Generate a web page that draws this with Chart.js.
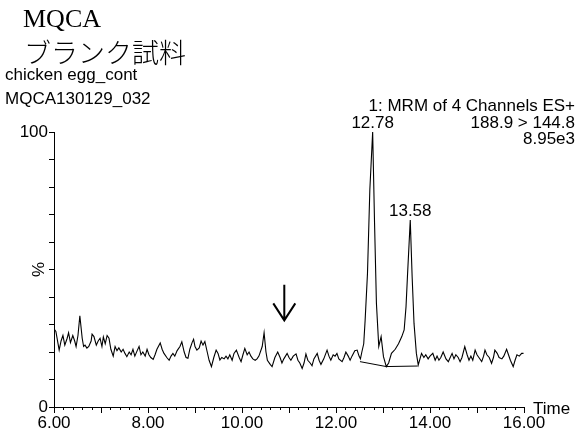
<!DOCTYPE html>
<html>
<head>
<meta charset="utf-8">
<title>MQCA chromatogram</title>
<script src="https://cdn.jsdelivr.net/npm/chart.js@4.4.0/dist/chart.umd.min.js"></script>
<style>
  html, body { margin: 0; padding: 0; background: #fff; }
  #chrom { display: block; }
</style>
</head>
<body>
<canvas id="chrom" width="581" height="437"></canvas>
<script>
// Retention time (min) and relative intensity (%) of the MRM trace
const times = [
  6.00, 6.04, 6.11, 6.15, 6.19, 6.23, 6.28, 6.31, 6.35, 6.40, 6.44, 6.47, 6.51, 6.55, 6.60, 6.63,
  6.66, 6.70, 6.74, 6.79, 6.81, 6.85, 6.90, 6.94, 6.98, 7.02, 7.05, 7.09, 7.13, 7.17, 7.21, 7.26,
  7.30, 7.34, 7.38, 7.43, 7.47, 7.51, 7.55, 7.60, 7.64, 7.68, 7.72, 7.77, 7.81, 7.85, 7.89, 7.94,
  7.98, 8.02, 8.06, 8.11, 8.15, 8.19, 8.26, 8.30, 8.34, 8.40, 8.45, 8.49, 8.53, 8.57, 8.62, 8.68,
  8.72, 8.77, 8.81, 8.85, 8.89, 8.94, 8.97, 9.00, 9.04, 9.09, 9.13, 9.17, 9.21, 9.26, 9.30, 9.35,
  9.40, 9.45, 9.49, 9.53, 9.57, 9.62, 9.66, 9.70, 9.74, 9.79, 9.83, 9.88, 9.94, 9.98, 10.02, 10.06,
  10.11, 10.15, 10.19, 10.23, 10.28, 10.32, 10.36, 10.43, 10.47, 10.51, 10.54, 10.60, 10.64, 10.70,
  10.76, 10.81, 10.85, 10.89, 10.96, 11.00, 11.04, 11.09, 11.15, 11.19, 11.23, 11.28, 11.32, 11.36,
  11.40, 11.45, 11.49, 11.53, 11.60, 11.64, 11.68, 11.74, 11.81, 11.85, 11.89, 11.94, 11.98, 12.02,
  12.06, 12.13, 12.17, 12.21, 12.26, 12.30, 12.34, 12.40, 12.45, 12.49, 12.52, 12.55, 12.59, 12.62,
  12.67, 12.72, 12.78, 12.82, 12.86, 12.91, 12.96, 13.01, 13.07, 13.12, 13.18, 13.26, 13.33, 13.40,
  13.45, 13.49, 13.52, 13.58, 13.62, 13.66, 13.71, 13.75, 13.82, 13.87, 13.91, 13.96, 14.00, 14.06,
  14.11, 14.15, 14.19, 14.23, 14.28, 14.34, 14.39, 14.43, 14.47, 14.51, 14.55, 14.60, 14.64, 14.68,
  14.74, 14.79, 14.83, 14.87, 14.91, 14.96, 15.00, 15.04, 15.10, 15.14, 15.17, 15.21, 15.26, 15.31,
  15.35, 15.38, 15.43, 15.47, 15.53, 15.57, 15.63, 15.67, 15.71, 15.77, 15.81, 15.85, 15.90, 15.95,
  15.99
];
const intensity = [
  28.4, 27.5, 20.7, 24.0, 26.0, 22.5, 25.0, 27.0, 23.4, 26.0, 24.0, 22.0, 26.0, 33.2, 25.0, 22.0,
  22.5, 21.4, 22.0, 24.0, 26.5, 25.6, 22.5, 24.0, 25.0, 22.0, 25.5, 23.0, 26.0, 25.0, 21.0, 18.5,
  22.0, 20.5, 21.5, 20.0, 21.0, 19.5, 18.3, 20.0, 19.0, 21.0, 18.5, 20.5, 22.0, 19.0, 20.0, 18.5,
  21.0, 19.0, 18.0, 17.3, 19.0, 21.0, 23.3, 21.0, 19.5, 18.0, 17.0, 18.5, 19.5, 18.5, 20.5, 22.0,
  23.7, 20.0, 18.0, 17.7, 21.0, 23.5, 24.6, 22.0, 20.7, 21.5, 24.0, 22.5, 23.8, 20.0, 17.0, 14.7,
  18.0, 20.7, 19.5, 17.1, 18.0, 17.5, 18.5, 17.5, 19.0, 17.0, 19.5, 20.7, 18.0, 16.5, 19.0, 21.3,
  19.0, 20.0, 18.5, 17.5, 17.0, 17.5, 18.5, 22.0, 27.0, 20.0, 17.0, 15.5, 14.7, 18.0,
  20.0, 18.0, 16.0, 17.5, 19.5, 18.0, 17.0, 18.5, 19.3, 17.0, 16.0, 14.0, 16.0, 19.3,
  17.0, 16.0, 15.0, 17.5, 19.5, 17.0, 15.5, 17.5, 20.7, 18.5, 17.0, 19.0, 18.5, 19.5,
  17.5, 16.5, 18.0, 20.0, 18.5, 17.0, 18.5, 20.5, 20.7, 18.5, 17.5, 20.0, 23.0, 31.6,
  48.6, 79.0, 100.0, 67.0, 37.7, 22.0, 25.6, 18.3, 14.7, 16.0, 19.5, 21.0, 23.0, 25.6,
  28.0, 36.5, 47.4, 68.0, 47.4, 30.4, 19.5, 15.3, 19.5, 18.0, 19.0, 17.5, 18.5, 19.5,
  17.0, 18.5, 17.0, 18.0, 20.0, 17.5, 16.5, 18.0, 19.5, 17.5, 19.0, 18.0, 16.5, 18.0,
  22.0, 19.0, 17.0, 18.5, 17.0, 20.7, 19.0, 18.0, 16.5, 18.5, 20.7, 19.0, 18.0, 15.9,
  18.0, 20.7, 19.5, 18.0, 17.5, 18.5, 21.0, 19.0, 17.0, 14.7, 17.0, 19.0, 18.5, 19.5,
  19.5
];

// Integration baseline under the two peaks
const baseTimes = [12.51, 13.07, 13.74];
const baseLevels = [16.5, 14.7, 14.9];

// Labelled peaks (apex retention times)
const peakTimes = [12.78, 13.58];

// Axis ticks
const yTicks = [0, 100];
const xLabelTicks = [6, 8, 10, 12, 14, 16];

// Downward marker arrow: time (min) and top/bottom level (%)
const arrowTime = 10.9;
const arrowTop = 44.5;
const arrowBottom = 31.5;

const FONT = '"Liberation Sans", Arial, sans-serif';

function apexLevel(t) {
  const i = times.indexOf(t);
  return i >= 0 ? intensity[i] : 0;
}

// Page header, side annotations, peak labels, arrow and minor ticks
const annotations = {
  id: 'annotations',
  beforeDraw(chart) {
    const ctx = chart.ctx;
    ctx.save();
    ctx.fillStyle = '#fff';
    ctx.fillRect(0, 0, chart.width, chart.height);
    ctx.restore();
  },
  afterDraw(chart) {
    const ctx = chart.ctx;
    const xs = chart.scales.x;
    const ys = chart.scales.y;
    ctx.save();
    ctx.fillStyle = '#000';
    ctx.strokeStyle = '#000';

    ctx.textAlign = 'left';
    ctx.textBaseline = 'alphabetic';
    ctx.font = '26px "Liberation Serif", "Times New Roman", serif';
    ctx.fillText('MQCA', 23, 27);
    ctx.font = '300 27px "Noto Sans CJK JP", sans-serif';
    ctx.textBaseline = 'middle';
    ctx.fillText('ブランク試料', 24, 53);

    ctx.textBaseline = 'alphabetic';
    ctx.font = '17px ' + FONT;
    ctx.fillText('chicken egg_cont', 5, 80);
    ctx.fillText('MQCA130129_032', 5, 104);

    ctx.textAlign = 'right';
    ctx.fillText('1: MRM of 4 Channels ES+', 575, 111);
    ctx.fillText('188.9 > 144.8', 575, 128);
    ctx.fillText('8.95e3', 575, 144);

    // peak apex labels
    ctx.textAlign = 'center';
    peakTimes.forEach(t => {
      const px = xs.getPixelForValue(t);
      const py = ys.getPixelForValue(apexLevel(t));
      ctx.fillText(t.toFixed(2), px, py - 4);
    });

    // axis captions
    ctx.textAlign = 'left';
    ctx.textBaseline = 'middle';
    ctx.fillText('Time', xs.right + 9, ys.bottom + 2);
    ctx.save();
    ctx.translate(39, ys.getPixelForValue(50));
    ctx.rotate(-Math.PI / 2);
    ctx.textAlign = 'center';
    ctx.fillText('%', 0, 0);
    ctx.restore();

    // minor time ticks every 0.2 min
    ctx.lineWidth = 1;
    ctx.beginPath();
    for (let k = 0; k <= 50; k++) {
      if (k % 5 === 0) continue;
      const px = Math.round(xs.getPixelForValue(6 + k * 0.2)) + 0.5;
      ctx.moveTo(px, ys.bottom);
      ctx.lineTo(px, ys.bottom + 3);
    }
    ctx.stroke();

    // marker arrow
    const ax = xs.getPixelForValue(arrowTime);
    const aTop = ys.getPixelForValue(arrowTop);
    const aBot = ys.getPixelForValue(arrowBottom);
    ctx.lineWidth = 2;
    ctx.beginPath();
    ctx.moveTo(ax, aTop);
    ctx.lineTo(ax, aBot);
    ctx.moveTo(ax - 11, aBot - 17);
    ctx.lineTo(ax, aBot);
    ctx.lineTo(ax + 11, aBot - 17);
    ctx.stroke();
    ctx.restore();
  }
};

new Chart(document.getElementById('chrom'), {
  type: 'line',
  data: {
    datasets: [
      {
        data: times.map((t, i) => ({ x: t, y: intensity[i] })),
        borderColor: '#000',
        borderWidth: 1.1,
        pointRadius: 0,
        tension: 0
      },
      {
        data: baseTimes.map((t, i) => ({ x: t, y: baseLevels[i] })),
        borderColor: '#000',
        borderWidth: 1,
        pointRadius: 0,
        tension: 0
      }
    ]
  },
  options: {
    responsive: false,
    animation: false,
    events: [],
    layout: { padding: { top: 132, right: 57, left: 0, bottom: 0 } },
    plugins: {
      legend: { display: false },
      tooltip: { enabled: false }
    },
    scales: {
      x: {
        type: 'linear',
        min: 6,
        max: 16,
        afterFit: s => { s.height = 30; },
        afterBuildTicks: s => {
          s.ticks = [];
          for (let v = 6; v <= 16; v++) s.ticks.push({ value: v });
        },
        border: { display: true, color: '#000', width: 1 },
        grid: { drawOnChartArea: false, color: '#000', tickLength: 6, tickWidth: 1 },
        ticks: {
          autoSkip: false,
          maxRotation: 0,
          padding: 0,
          color: '#000',
          font: { family: FONT, size: 17 },
          callback: v => (xLabelTicks.includes(v) ? v.toFixed(2) : '')
        }
      },
      y: {
        min: 0,
        max: 100,
        afterFit: s => { s.width = 54; },
        afterBuildTicks: s => {
          s.ticks = [];
          for (let v = 0; v <= 100; v += 10) s.ticks.push({ value: v });
        },
        border: { display: true, color: '#000', width: 1 },
        grid: { drawOnChartArea: false, color: '#000', tickLength: 5, tickWidth: 1 },
        ticks: {
          padding: 1,
          color: '#000',
          font: { family: FONT, size: 17 },
          callback: v => (yTicks.includes(v) ? String(v) : '')
        }
      }
    }
  },
  plugins: [annotations]
});
</script>
</body>
</html>
